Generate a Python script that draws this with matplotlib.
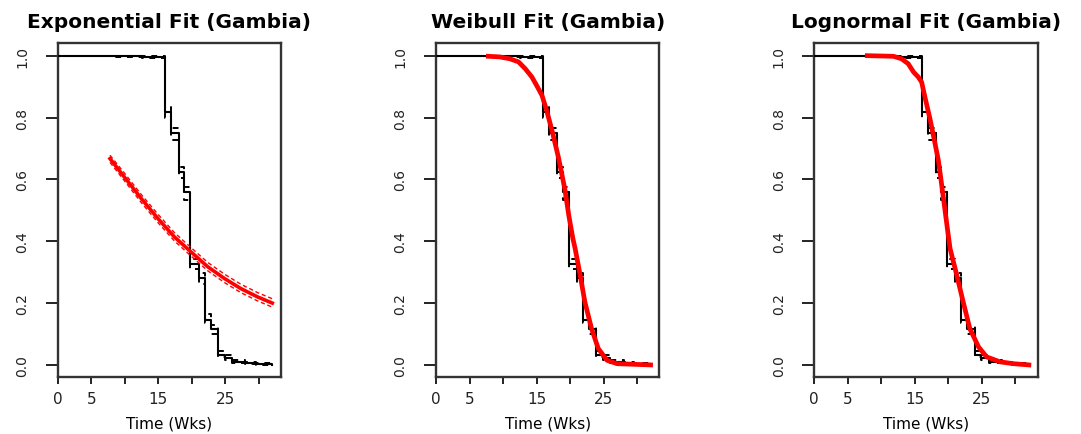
import matplotlib
matplotlib.use("Agg")
import matplotlib.pyplot as plt

plt.rcParams["font.family"] = ["DejaVu Sans"]

# Kaplan-Meier estimate (same in every panel) with its pointwise bounds
km_time = [0, 8.0, 10.5, 12.5, 14.0, 16.0, 16.9, 18.1, 18.9, 19.8, 21.0, 21.9,
           22.8, 23.9, 24.9, 26.0, 28.0, 29.5, 32.0]
km_surv = [1.0, 0.999, 0.998, 0.997, 0.995, 0.818, 0.750, 0.625, 0.560, 0.325,
           0.280, 0.145, 0.115, 0.033, 0.022, 0.010, 0.005, 0.002, 0.0]
km_upper = [1.0, 1.0, 1.0, 0.999, 0.998, 0.834, 0.767, 0.640, 0.574, 0.343,
            0.297, 0.165, 0.128, 0.045, 0.032, 0.016, 0.009, 0.005, 0.002]
km_lower = [1.0, 0.997, 0.995, 0.994, 0.991, 0.798, 0.728, 0.603, 0.533, 0.310,
            0.262, 0.135, 0.100, 0.025, 0.015, 0.006, 0.002, 0.0, 0.0]

# exponential fit and its bounds
exp_time = [7.8, 10.0, 12.5, 15.0, 17.4, 19.9, 22.4, 24.9, 27.3, 29.8, 32.0]
exp_surv = [0.667, 0.606, 0.537, 0.472, 0.414, 0.365, 0.317, 0.279, 0.247, 0.220, 0.200]
exp_upper = [0.678, 0.619, 0.550, 0.486, 0.428, 0.379, 0.331, 0.293, 0.261, 0.234, 0.214]
exp_lower = [0.655, 0.594, 0.524, 0.459, 0.401, 0.352, 0.304, 0.266, 0.234, 0.207, 0.187]

# weibull fit
wei_time = [7.8, 9.5, 11.0, 12.3, 13.3, 14.3, 15.0, 15.8, 16.5, 17.3, 18.25,
            19.2, 19.8, 20.4, 20.75, 21.5, 22.2, 23.2, 24.2, 25.5, 27.0, 32.0]
wei_surv = [0.998, 0.996, 0.990, 0.980, 0.958, 0.931, 0.904, 0.872, 0.823, 0.758,
            0.672, 0.570, 0.484, 0.410, 0.376, 0.290, 0.204, 0.117, 0.053, 0.015,
            0.004, 0.0]

# lognormal fit
lgn_time = [7.9, 11.8, 13.0, 14.0, 14.8, 15.5, 16.0, 16.5, 17.3, 18.0, 18.5,
            18.9, 19.4, 19.9, 20.25, 21.25, 22.2, 23.2, 24.5, 25.7, 27.7, 29.7, 32.0]
lgn_surv = [1.0, 0.998, 0.990, 0.974, 0.947, 0.931, 0.915, 0.866, 0.791, 0.716,
            0.662, 0.598, 0.515, 0.432, 0.376, 0.290, 0.204, 0.117, 0.058, 0.026,
            0.010, 0.004, 0.0]

titles = ["Exponential Fit (Gambia)", "Weibull Fit (Gambia)", "Lognormal Fit (Gambia)"]
x_ticks = [0, 5, 10, 15, 20, 25, 30]
x_ticklabels = ["0", "5", "", "15", "", "25", ""]
y_ticks = [0.0, 0.2, 0.4, 0.6, 0.8, 1.0]
y_ticklabels = ["0.0", "0.2", "0.4", "0.6", "0.8", "1.0"]

fig = plt.figure(figsize=(10.81, 4.35), dpi=100)
W, H = 1081, 435
lefts = [57.7, 436.0, 814.3]
axes = [fig.add_axes([l / W, (H - 378.3) / H, 223.3 / W, 334.0 / H]) for l in lefts]

for ax, title in zip(axes, titles):
    ax.step(km_time, km_surv, where="post", color="black", lw=1.5, zorder=3)
    ax.step(km_time, km_upper, where="post", color="black", lw=1.4,
            ls=(0, (3, 3)), zorder=3)
    ax.step(km_time, km_lower, where="post", color="black", lw=1.4,
            ls=(0, (3, 3)), zorder=3)

    ax.set_xlim(0, 33.3)
    ax.set_ylim(-0.04, 1.04)
    ax.set_xticks(x_ticks)
    ax.set_xticklabels(x_ticklabels, fontsize=11)
    ax.set_yticks(y_ticks)
    ax.set_yticklabels(y_ticklabels, fontsize=10, rotation=90, va="center")
    ax.tick_params(axis="x", length=5, width=1.4, pad=5, colors="#222")
    ax.tick_params(axis="y", length=8.5, width=1.4, pad=12, colors="#222")
    for sp in ax.spines.values():
        sp.set_linewidth(1.7)
        sp.set_color("#333")
    ax.set_title(title, fontsize=14.5, fontweight="bold", pad=12)
    ax.set_xlabel("Time (Wks)", fontsize=11)
    ax.xaxis.set_label_coords(0.5, -0.115)

a1, a2, a3 = axes
a1.plot(exp_time, exp_surv, color="red", lw=2.6, zorder=4)
a1.plot(exp_time, exp_upper, color="red", lw=1.0, ls=(0, (3, 2)), zorder=4)
a1.plot(exp_time, exp_lower, color="red", lw=1.0, ls=(0, (3, 2)), zorder=4)
a2.plot(wei_time, wei_surv, color="red", lw=3.4, zorder=4)
a3.plot(lgn_time, lgn_surv, color="red", lw=3.4, zorder=4)

fig.savefig("out.png", dpi=100, facecolor="white")
